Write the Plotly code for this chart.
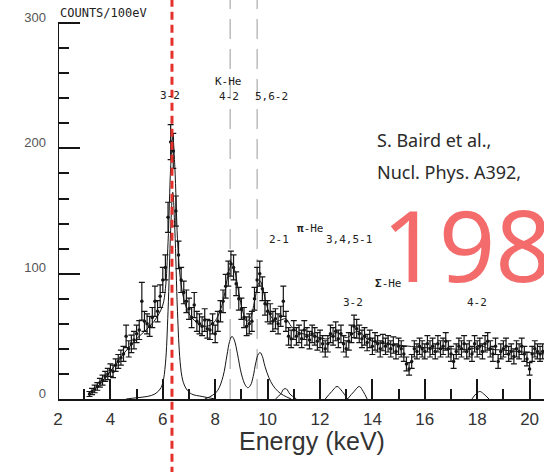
import plotly.graph_objects as go

# ---------------- data ----------------
bin_start = 3.2          # keV, first bin centre
bin_width = 0.1          # keV  (COUNTS / 100 eV)

counts = [
    4, 6, 8, 10, 13, 15, 18, 20, 23, 22,
    27, 30, 33, 36, 50, 40, 44, 47, 52, 55,
    78, 62, 60, 58, 65, 78, 70, 82, 95, 105,
    145, 205, 198, 150, 115, 95, 85, 78, 72, 65,
    75, 62, 60, 58, 63, 56, 55, 60, 52, 62,
    70, 78, 90, 100, 108, 105, 92, 80, 72, 65,
    58, 60, 62, 80, 95, 100, 88, 76, 70, 68,
    62, 64, 60, 66, 78, 62, 50, 48, 55, 50,
    52, 48, 55, 50, 47, 52, 50, 46, 48, 44,
    40, 44, 52, 50, 54, 48, 52, 44, 40, 46,
    52, 58, 56, 52, 48, 50, 45, 48, 42, 46,
    44, 40, 45, 42, 44, 40, 43, 38, 42, 40,
    36, 28, 24, 30, 40, 38, 42, 40, 38, 44,
    40, 42, 38, 44, 40, 42, 46, 40, 36, 30,
    38, 42, 40, 44, 38, 40, 36, 44, 40, 42,
    38, 44, 46, 40, 36, 42, 30, 38, 40, 42,
    36, 38, 34, 40, 38, 42, 36, 32, 24, 36,
    40, 38, 36, 38,
]
errors = [
    2, 2.5, 3, 3, 3.5, 4, 4, 4.5, 5, 5,
    5, 5.5, 6, 6, 9, 6.5, 7, 7, 7, 7.5,
    15, 8, 8, 8, 8, 12, 8.5, 9, 10, 10,
    12, 14, 14, 12, 11, 10, 9, 9, 8.5, 8,
    10, 8, 8, 7.5, 9, 7.5, 7.5, 8, 7, 8,
    8.5, 9, 9.5, 10, 10, 10, 9.5, 9, 8.5, 8,
    7.5, 8, 8, 9, 10, 10, 9.5, 9, 8.5, 8,
    8, 8, 8, 8, 12, 8, 7, 7, 7.5, 7,
    7, 7, 7.5, 7, 7, 7, 7, 7, 7, 6.5,
    6.5, 6.5, 7, 7, 7.5, 7, 7, 6.5, 6.5, 7,
    7, 9, 7.5, 7, 7, 7, 6.5, 7, 6.5, 7,
    6.5, 6.5, 6.5, 6.5, 6.5, 6.5, 6.5, 6, 6.5, 6.5,
    6, 5.5, 5, 5.5, 6.5, 6, 6.5, 6.5, 6, 6.5,
    6.5, 6.5, 6, 6.5, 6.5, 6.5, 7, 6.5, 6, 5.5,
    6, 6.5, 6.5, 6.5, 6, 6.5, 6, 6.5, 6.5, 6.5,
    6, 6.5, 7, 6.5, 6, 6.5, 5.5, 6, 6.5, 6.5,
    6, 6, 6, 6.5, 6, 6.5, 6, 5.5, 5, 6,
    6.5, 6, 6, 6,
]
energy = [round(bin_start + bin_width * i, 2) for i in range(len(counts))]

# total fit curve
fit_e = [3.2, 3.6, 4.0, 4.5, 5.0, 5.5, 5.8, 6.0, 6.1, 6.2, 6.3, 6.38, 6.46, 6.56,
         6.66, 6.8, 7.0, 7.3, 7.6, 7.9, 8.1, 8.3, 8.45, 8.55, 8.64, 8.75, 8.9,
         9.05, 9.2, 9.35, 9.5, 9.62, 9.72, 9.82, 9.95, 10.1, 10.3, 10.5, 10.7,
         10.9, 11.2, 11.6, 12.0, 12.3, 12.65, 13.0, 13.45, 13.8, 14.2, 15.0,
         16.0, 17.0, 17.8, 18.1, 18.45, 19.0, 20.0, 20.55]
fit_c = [4, 12, 22, 36, 48, 58, 66, 75, 88, 125, 185, 210, 185, 128,
         98, 80, 68, 61, 58, 60, 66, 78, 95, 104, 108, 102, 85,
         70, 62, 65, 78, 90, 94, 88, 76, 67, 62, 63, 64,
         58, 53, 51, 49, 48, 53, 49, 54, 48, 45, 43,
         41, 40, 40, 43, 40, 39, 37, 36]

# individual line components
k32_e = [4.6, 5.0, 5.4, 5.7, 5.9, 6.0, 6.1, 6.2, 6.3, 6.38, 6.46, 6.56, 6.66,
         6.76, 6.9, 7.1, 7.5, 8.0]
k32_c = [0, 1, 2, 4, 8, 13, 28, 70, 135, 165, 135, 70, 30, 15, 8, 4, 2, 0]
k42_e = [7.6, 7.9, 8.1, 8.3, 8.45, 8.55, 8.64, 8.73, 8.85, 9.0, 9.15, 9.25,
         9.35, 9.45, 9.55, 9.65, 9.72, 9.8, 9.9, 10.05, 10.2, 10.4, 10.6, 10.9]
k42_c = [0, 3, 7, 18, 35, 46, 50, 47, 36, 20, 11, 9, 11, 18, 29, 36, 37, 34,
         26, 17, 11, 6, 3, 0]
pi21_e = [10.3, 10.5, 10.62, 10.72, 10.85, 11.1]
pi21_c = [0, 4, 8, 8, 4, 0]
sig_a_e = [12.2, 12.45, 12.65, 12.85, 13.05]
sig_a_c = [0, 6, 10, 6, 0]
sig_b_e = [13.05, 13.3, 13.5, 13.65, 13.8]
sig_b_c = [0, 6, 10, 6, 0]
sig42_e = [17.8, 17.95, 18.1, 18.25, 18.45]
sig42_c = [0, 4, 6, 4, 0]

x_ticks = [2, 4, 6, 8, 10, 12, 14, 16, 18, 20]
y_ticks = [0, 100, 200, 300]

kaon_32 = 6.35        # red marker line (keV)
kaon_42 = 8.57
kaon_562 = 9.6

# ---------------- figure ----------------
INK = "#151515"
fig = go.Figure()

fig.add_trace(go.Scatter(
    x=energy, y=counts, mode="markers",
    marker=dict(size=3.5, color=INK),
    error_y=dict(type="data", array=errors, visible=True,
                 color=INK, thickness=1.2, width=3),
    showlegend=False, hoverinfo="skip"))

fig.add_trace(go.Scatter(x=fit_e, y=fit_c, mode="lines",
                         line=dict(color=INK, width=1, shape="spline"),
                         showlegend=False, hoverinfo="skip"))
for ex, cy in [(k32_e, k32_c), (k42_e, k42_c), (pi21_e, pi21_c),
               (sig_a_e, sig_a_c), (sig_b_e, sig_b_c), (sig42_e, sig42_c)]:
    fig.add_trace(go.Scatter(x=ex, y=cy, mode="lines",
                             line=dict(color=INK, width=1, shape="spline"),
                             showlegend=False, hoverinfo="skip"))

# axes frame of the scan
fig.add_shape(type="line", x0=2, x1=2, y0=0, y1=300, xref="x", yref="y",
              line=dict(color=INK, width=2))
for xv in [kaon_42, kaon_562]:
    fig.add_shape(type="line", x0=xv, x1=xv, y0=0, y1=1, xref="x", yref="paper",
                  line=dict(color="#9a9a9a", width=1, dash="20px,10px"), layer="below")
fig.add_shape(type="line", x0=kaon_32, x1=kaon_32, y0=-0.19, y1=1,
              xref="x", yref="paper",
              line=dict(color="#e5312b", width=3, dash="8px,5px"))

mono = "DejaVu Sans Mono"
labels = [
    ("3-2", 6.27, 242), ("K-He", 8.49, 253), ("4-2", 8.53, 241),
    ("5,6-2", 10.13, 241), ("<b>π</b>-He", 11.62, 136), ("2-1", 10.44, 127),
    ("3,4,5-1", 13.11, 127), ("<b>Σ</b>-He", 14.6, 92), ("3-2", 13.26, 77),
    ("4-2", 17.99, 77),
]
for txt, xv, yv in labels:
    fig.add_annotation(x=xv, y=yv, text=txt, showarrow=False, xref="x", yref="y",
                       font=dict(family=mono, size=11, color="#222"))

fig.add_annotation(x=0, y=308, xref="paper", yref="y", text="COUNTS/100eV",
                   showarrow=False, xanchor="left",
                   font=dict(family=mono, size=12, color="#222"))

fig.add_annotation(x=14.1, y=207, xref="x", yref="y", text="S. Baird et al.,",
                   showarrow=False, xanchor="left",
                   font=dict(family="Noto Sans", size=18, color="#2a2a2a"))
fig.add_annotation(x=14.1, y=181, xref="x", yref="y", text="Nucl. Phys. A392,",
                   showarrow=False, xanchor="left",
                   font=dict(family="Noto Sans", size=18, color="#2a2a2a"))
fig.add_annotation(x=14.3, y=124, xref="x", yref="y", text="1983",
                   showarrow=False, xanchor="left",
                   font=dict(family="Noto Sans", size=99, color="#f36b6b"))

fig.add_annotation(x=11.69, y=-0.145, xref="x", yref="paper", text="Energy (keV)",
                   showarrow=False,
                   font=dict(family="Liberation Sans", size=25, color="#333"))

fig.update_layout(
    width=544, height=472,
    margin=dict(l=58, r=0, t=0, b=73),
    paper_bgcolor="white", plot_bgcolor="white",
    xaxis=dict(range=[2, 20.55], tickvals=x_ticks, ticks="inside", ticklen=20,
               tickwidth=1.5, tickcolor=INK, showline=True, linecolor=INK,
               linewidth=2, showgrid=False, zeroline=False,
               minor=dict(dtick=1, tick0=2, ticks="inside", ticklen=10,
                          tickwidth=1.5, tickcolor=INK, showgrid=False),
               tickfont=dict(family="Liberation Sans", size=17, color="#333"),
               ticklabelstandoff=4),
    yaxis=dict(range=[0, 318.4], tickvals=y_ticks, ticks="inside", ticklen=22,
               tickwidth=2, tickcolor=INK, showline=False, showgrid=False,
               zeroline=False,
               minor=dict(dtick=20, tick0=0, ticks="inside", ticklen=11,
                          tickwidth=2, tickcolor=INK, showgrid=False),
               tickfont=dict(family="Liberation Sans", size=13, color="#555"),
               ticklabelshift=-6, ticklabelstandoff=11),
)

fig.write_html("out.html")
